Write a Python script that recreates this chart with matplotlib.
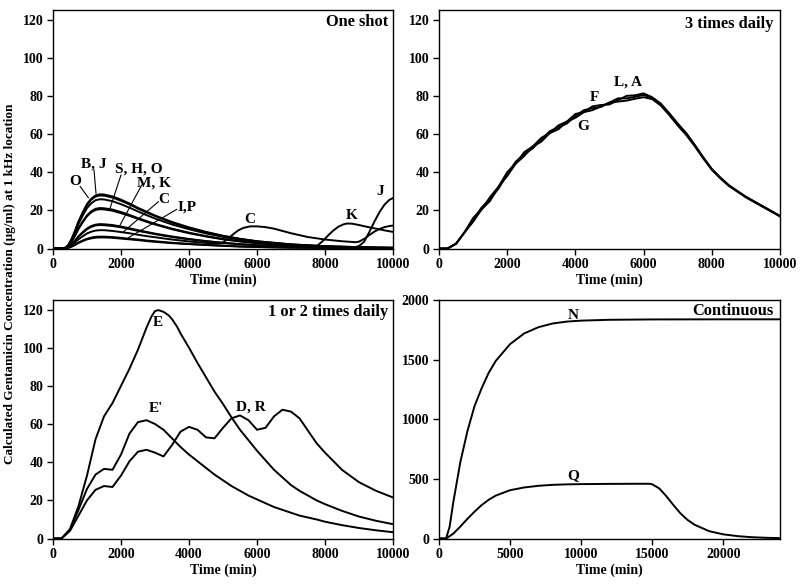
import matplotlib
matplotlib.use("Agg")
import matplotlib.pyplot as plt

plt.rcParams['font.family'] = ['Liberation Serif', 'DejaVu Serif']
plt.rcParams['font.weight'] = 'bold'
plt.rcParams['mathtext.default'] = 'regular'

# ---------------- One shot panel ----------------
t_one = [0, 250, 350, 450, 550, 650, 750, 875, 1000, 1125, 1250, 1375, 1500, 1750, 2000, 2250,
         2500, 2750, 3000, 3500, 4000, 4500, 5000, 5500, 6000, 7000, 8000, 9000, 10000]
one_B = [0, 0, 0.3, 1.7, 5.1, 9.4, 14.2, 19.0, 23.3, 26.1, 27.8, 28.4, 28.3, 27.3, 25.6, 23.6,
         21.3, 19.3, 17.3, 13.9, 11.1, 8.7, 6.7, 5.1, 3.8, 2.2, 1.2, 0.7, 0.4]
one_O = [0, 0, 0.3, 1.5, 4.6, 8.5, 12.9, 17.3, 21.2, 23.7, 25.3, 25.8, 25.7, 24.8, 23.2, 21.4,
         19.4, 17.5, 15.7, 12.6, 10.1, 7.9, 6.1, 4.6, 3.5, 2.0, 1.1, 0.6, 0.4]
one_S = [0, 0, 0.2, 1.3, 3.8, 7.0, 10.6, 14.2, 17.4, 19.5, 20.8, 21.2, 21.1, 20.4, 19.1, 17.6,
         15.9, 14.4, 12.9, 10.4, 8.3, 6.5, 5.0, 3.8, 2.9, 1.6, 0.9, 0.5, 0.3]
one_H = [0, 0, 0.2, 1.2, 3.7, 6.8, 10.3, 13.8, 16.9, 19.0, 20.2, 20.6, 20.5, 19.8, 18.5, 17.1,
         15.5, 14.0, 12.6, 10.1, 8.0, 6.3, 4.8, 3.7, 2.8, 1.6, 0.9, 0.5, 0.3]
one_M = [0, 0, 0.1, 0.8, 2.3, 4.2, 6.4, 8.6, 10.5, 11.8, 12.5, 12.8, 12.7, 12.3, 11.5, 10.6,
         9.6, 8.7, 7.8, 6.3, 5.0, 3.9, 3.0, 2.3, 1.7, 1.0, 0.6, 0.3, 0.2]
one_I = [0, 0, 0.1, 0.4, 1.1, 2.0, 3.1, 4.2, 5.1, 5.7, 6.1, 6.2, 6.2, 6.0, 5.6, 5.1,
         4.7, 4.2, 3.8, 3.0, 2.4, 1.9, 1.5, 1.1, 0.8, 0.5, 0.3, 0.2, 0.1]
one_P = [0, 0, 0.1, 0.3, 1.0, 1.9, 2.9, 3.9, 4.8, 5.3, 5.7, 5.8, 5.8, 5.6, 5.2, 4.8,
         4.4, 3.9, 3.5, 2.8, 2.3, 1.8, 1.4, 1.0, 0.8, 0.4, 0.3, 0.1, 0.1]

t_J = [0, 250, 350, 450, 550, 650, 750, 875, 1000, 1125, 1250, 1375, 1500, 1750, 2000, 2250,
       2500, 2750, 3000, 3500, 4000, 4500, 5000, 5500, 6000, 7000, 8000, 8900, 9000, 9150,
       9300, 9450, 9600, 9750, 9900, 10000]
one_J = [0, 0, 0.3, 1.7, 5.0, 9.2, 13.9, 18.6, 22.8, 25.6, 27.2, 27.8, 27.7, 26.7, 25.0, 23.1,
         20.9, 18.9, 17.0, 13.6, 10.8, 8.5, 6.5, 5.0, 3.8, 2.1, 1.2, 0.75, 1.3, 3.5,
         8.5, 14.0, 19.0, 23.0, 25.6, 26.4]

t_K = [0, 250, 350, 450, 550, 650, 750, 875, 1000, 1125, 1250, 1375, 1500, 1750, 2000, 2250,
       2500, 2750, 3000, 3500, 4000, 4500, 5000, 5500, 6000, 7000, 7500, 7650, 7800, 7950,
       8100, 8250, 8400, 8550, 8650, 8800, 9000, 9250, 9500, 9750, 10000]
one_K = [0, 0, 0.1, 0.7, 2.2, 4.1, 6.2, 8.2, 10.1, 11.3, 12.1, 12.3, 12.2, 11.8, 11.1, 10.2,
         9.2, 8.4, 7.5, 6.0, 4.8, 3.8, 2.9, 2.2, 1.7, 0.95, 0.7, 0.65, 1.8, 4.2,
         7.0, 9.5, 11.5, 12.7, 13.1, 13.0, 12.3, 11.3, 10.4, 9.5, 8.7]

t_C = [0, 250, 350, 450, 550, 650, 750, 875, 1000, 1125, 1250, 1375, 1500, 1750, 2000, 2250,
       2500, 2750, 3000, 3500, 4000, 4500, 4850, 5000, 5150, 5300, 5450, 5600, 5800, 6000,
       6250, 6500, 7000, 7500, 8000, 8500, 8900, 9000, 9150, 9300, 9450, 9600, 9750, 9900, 10000]
one_C = [0, 0, 0.1, 0.6, 1.7, 3.2, 4.8, 6.4, 7.9, 8.8, 9.4, 9.6, 9.6, 9.2, 8.6, 8.0,
         7.2, 6.5, 5.9, 4.7, 3.7, 2.9, 2.5, 3.2, 5.2, 7.5, 9.5, 10.8, 11.6, 11.6,
         11.2, 10.4, 8.0, 6.0, 4.7, 3.8, 3.3, 3.6, 5.0, 7.0, 8.8, 10.2, 11.2, 11.8, 12.0]

# ---------------- 3 times daily panel ----------------
t_three = [0, 250, 500, 750, 1000, 1250, 1500, 1750, 2000, 2250, 2500, 2750, 3000, 3250,
           3500, 3750, 4000, 4250, 4500, 4750, 5000, 5250, 5500, 5750, 6000, 6250, 6500,
           6750, 7000, 7250, 7500, 7750, 8000, 8250, 8500, 8750, 9000, 9250, 9500, 9750, 10000]
three_LA = [0, 0, 2.5, 8.5, 14, 20.5, 27, 32.5, 38, 44.5, 50.5, 53.5, 56, 60.5, 64.5, 66.5, 68.5,
            71.5, 74.5, 75.2, 75.5, 77.7, 80, 80.3, 81.3, 79.3, 76, 71, 65.5, 60.5, 54.3, 47.8,
            41.7, 37.2, 33.2, 30.1, 27.1, 24.6, 22.1, 19.6, 17.1]
three_F = [0, 0, 2.5, 8.5, 15, 21.5, 26, 31.5, 39, 45.5, 49.5, 52.5, 57, 61.5, 63.5, 65.5, 69.5,
           72.5, 73.5, 74.2, 76.5, 78.7, 78.7, 79.5, 80.5, 78.9, 75.6, 70.6, 65.1, 60.1, 54.1, 47.6,
           41.5, 37, 33, 30, 27, 24.5, 22, 19.5, 17]
three_G = [0, 0, 2.5, 8.5, 16, 20.5, 25, 32.5, 40, 44.5, 48.5, 53.5, 58, 60.5, 62.5, 66.5, 70.5,
           71.5, 72.5, 74.5, 76.5, 77, 77.5, 78.5, 79.3, 78.3, 75, 70, 64.5, 59.5, 53.6, 47.2,
           41.3, 36.8, 32.8, 29.8, 26.8, 24.3, 21.8, 19.3, 16.8]

# ---------------- 1 or 2 times daily panel ----------------
t_E = [0, 250, 500, 750, 1000, 1250, 1500, 1750, 2000, 2250, 2500, 2750, 2900, 3000, 3100, 3250,
       3400, 3500, 3650, 3750, 4000, 4250, 4500, 4750, 5000, 5250, 5500, 5750, 6000, 6250, 6500,
       6750, 7000, 7250, 7500, 7750, 8000, 8500, 9000, 9500, 10000]
daily_E = [0, 0, 5, 17, 33, 52, 64, 71, 80, 89, 99, 110.5, 116.5, 119.2, 119.7, 118.8,
           117, 115, 111, 107.5, 100, 92, 84.5, 77, 70.5, 63.5, 57, 51.5, 46, 41, 36,
           32, 28, 25, 22.5, 20, 18, 14.5, 11.5, 9.3, 7.5]
t_daily = [0, 250, 500, 750, 1000, 1250, 1500, 1750, 2000, 2250, 2500, 2750, 3000, 3250, 3500, 3750,
           4000, 4250, 4500, 4750, 5000, 5250, 5500, 5750, 6000, 6250, 6500, 6750, 7000, 7250, 7500,
           7750, 8000, 8500, 9000, 9500, 10000]
daily_Ep = [0, 0, 4.5, 15, 26, 33.5, 36.5, 36, 44, 55, 61, 62, 60, 57, 52.5, 48,
            44, 40.5, 37, 33.5, 30.5, 27.5, 25, 22.5, 20.5, 18.5, 16.5, 15, 13.5, 12, 11,
            10, 8.8, 7, 5.5, 4.3, 3.3]
daily_DR = [0, 0, 4, 12, 20, 25.5, 27.5, 27, 33, 40.5, 45.5, 46.5, 45, 43, 49, 56,
            58.5, 57, 53, 52.5, 58, 63, 64.5, 62, 57, 58, 64, 67.5, 66.5, 63, 56.5,
            50, 45, 36, 29.5, 25, 21.5]

# ---------------- Continuous panel ----------------
t_N = [0, 500, 750, 1000, 1500, 2000, 2500, 3000, 3500, 4000, 5000, 6000, 7000, 8000, 9000,
       10000, 12000, 15000, 20000, 24000]
cont_N = [0, 0, 100, 300, 640, 900, 1110, 1260, 1390, 1490, 1630, 1720, 1772, 1803, 1819,
          1827, 1834, 1837, 1838, 1838]
t_Q = [0, 500, 1000, 1500, 2000, 2500, 3000, 3500, 4000, 5000, 6000, 7000, 8000, 9000, 10000,
       12000, 14000, 14800, 15000, 15500, 16000, 16500, 17000, 17500, 18000, 19000, 20000,
       21000, 22000, 23000, 24000]
cont_Q = [0, 0, 40, 100, 165, 225, 280, 325, 360, 405, 428, 442, 450, 454, 456,
          458, 459, 459, 455, 420, 355, 280, 210, 155, 115, 62, 35, 20, 11, 6, 3]

xticks_short = [0, 2000, 4000, 6000, 8000, 10000]
yticks_short = [0, 20, 40, 60, 80, 100, 120]
xticks_cont = [0, 5000, 10000, 15000, 20000]
yticks_cont = [0, 500, 1000, 1500, 2000]

W, H = 800, 587
fig = plt.figure(figsize=(W / 100, H / 100), dpi=100)

def px_axes(x0, y0, x1, y1):
    return fig.add_axes([x0 / W, 1 - y1 / H, (x1 - x0) / W, (y1 - y0) / H])

ax1 = px_axes(53, 10, 393, 248.5)
ax2 = px_axes(439, 10, 780, 248.5)
ax3 = px_axes(53, 300, 393, 538.5)
ax4 = px_axes(439, 300, 780, 538.5)

lw = 1.4
tick_fs = 10
lab_fs = 11
title_fs = 11.8

for ax in (ax1, ax2, ax3, ax4):
    for s in ax.spines.values():
        s.set_linewidth(1.0)
    ax.tick_params(direction='out', length=4, width=1, labelsize=tick_fs, top=False, right=False, pad=3)
    ax.set_xlabel('Time (min)', fontsize=tick_fs, fontweight='bold', labelpad=2)

# One shot
for y in (one_B, one_O, one_S, one_H, one_M, one_I, one_P):
    ax1.plot(t_one, y, color='black', lw=lw)
ax1.plot(t_J, one_J, color='black', lw=lw)
ax1.plot(t_K, one_K, color='black', lw=lw)
ax1.plot(t_C, one_C, color='black', lw=lw)
ax1.set_xlim(0, 10000)
ax1.set_ylim(0, 125)
ax1.set_xticks(xticks_short)
ax1.set_yticks(yticks_short)
ax1.text(9850, 118.5, 'One shot', ha='right', va='center', fontsize=title_fs, fontweight='bold')

leaders = [
    ('O', (640, 35.0), (800, 32.5), (1040, 26.6)),
    ('B, J', (1200, 44.5), (1206, 41.1), (1265, 28.9)),
    ('S, H, O', (2530, 41.5), (2000, 38.5), (1676, 21.0)),
    ('M, K', (2960, 34.1), (2608, 33.2), (1970, 12.2)),
    ('C', (3270, 25.7), (3098, 24.5), (2068, 8.7)),
    ('I,P', (3950, 21.8), (3638, 20.5), (2215, 5.6)),
]
for txt, tpos, p0, p1 in leaders:
    ax1.text(tpos[0], tpos[1], txt, ha='center', va='center', fontsize=lab_fs, fontweight='bold')
    ax1.plot([p0[0], p1[0]], [p0[1], p1[1]], color='black', lw=0.8)
ax1.text(5794, 15.2, 'C', ha='center', va='center', fontsize=lab_fs, fontweight='bold')
ax1.text(8785, 17.5, 'K', ha='center', va='center', fontsize=lab_fs, fontweight='bold')
ax1.text(9618, 29.7, 'J', ha='center', va='center', fontsize=lab_fs, fontweight='bold')

# 3 times daily
for y in (three_LA, three_F, three_G):
    ax2.plot(t_three, y, color='black', lw=lw)
ax2.set_xlim(0, 10000)
ax2.set_ylim(0, 125)
ax2.set_xticks(xticks_short)
ax2.set_yticks(yticks_short)
ax2.text(9824, 117.8, '3 times daily', ha='right', va='center', fontsize=title_fs, fontweight='bold')
ax2.text(5533, 87.5, 'L, A', ha='center', va='center', fontsize=lab_fs, fontweight='bold')
ax2.text(4554, 79.0, 'F', ha='center', va='center', fontsize=lab_fs, fontweight='bold')
ax2.text(4232, 64.2, 'G', ha='center', va='center', fontsize=lab_fs, fontweight='bold')

# 1 or 2 times daily
ax3.plot(t_E, daily_E, color='black', lw=lw)
for y in (daily_Ep, daily_DR):
    ax3.plot(t_daily, y, color='black', lw=lw)
ax3.set_xlim(0, 10000)
ax3.set_ylim(0, 125)
ax3.set_xticks(xticks_short)
ax3.set_yticks(yticks_short)
ax3.text(9850, 118.5, '1 or 2 times daily', ha='right', va='center', fontsize=title_fs, fontweight='bold')
ax3.text(3090, 113, 'E', ha='center', va='center', fontsize=lab_fs, fontweight='bold')
ax3.text(3040, 68, "E'", ha='center', va='center', fontsize=lab_fs, fontweight='bold')
ax3.text(5830, 68.7, 'D, R', ha='center', va='center', fontsize=lab_fs, fontweight='bold')

# Continuous
ax4.plot(t_N, cont_N, color='black', lw=lw)
ax4.plot(t_Q, cont_Q, color='black', lw=lw)
ax4.set_xlim(0, 24000)
ax4.set_ylim(0, 2000)
ax4.set_xticks(xticks_cont)
ax4.set_yticks(yticks_cont)
ax4.text(23530, 1910, 'Continuous', ha='right', va='center', fontsize=title_fs, fontweight='bold')
ax4.text(9410, 1866, 'N', ha='center', va='center', fontsize=lab_fs, fontweight='bold')
ax4.text(9450, 530, 'Q', ha='center', va='center', fontsize=lab_fs, fontweight='bold')

fig.text(0.0125, 0.516, 'Calculated Gentamicin Concentration (\u03bcg/ml) at 1 kHz location',
         rotation=90, ha='center', va='center', fontsize=9.5, fontweight='bold')

fig.savefig('out.png', dpi=100)
